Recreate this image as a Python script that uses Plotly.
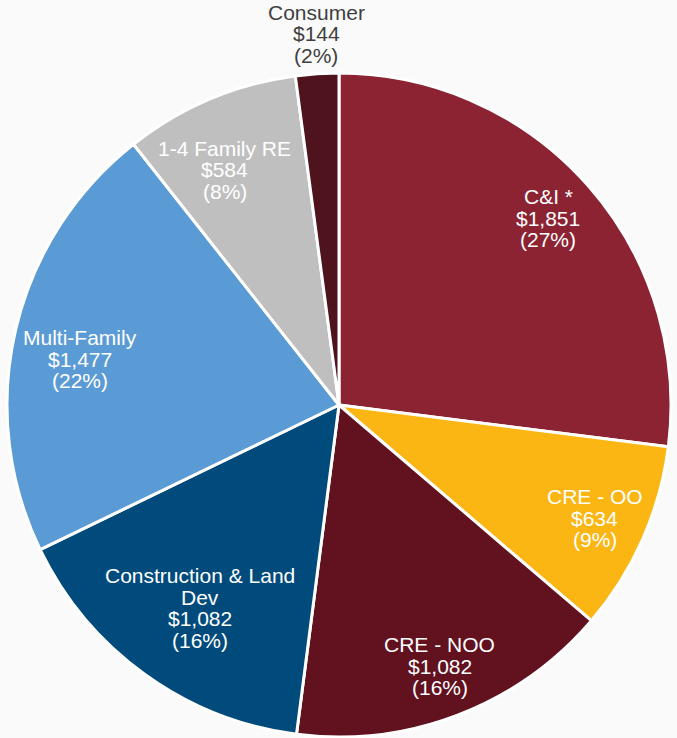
import math
import plotly.graph_objects as go

categories = ["C&I *", "CRE - OO", "CRE - NOO", "Construction & Land<br>Dev",
              "Multi-Family", "1-4 Family RE", "Consumer"]
values = [1851, 634, 1082, 1082, 1477, 584, 144]
pct_labels = ["27%", "9%", "16%", "16%", "22%", "8%", "2%"]

colors = ["#8C2333", "#FBB614", "#62111F", "#004B7B", "#5B9BD5", "#BFBFBF", "#4E131C"]
label_radius = [0.845, 0.843, 0.843, 0.741, 0.792, 0.787, 1.12]
label_angle_shift = [-0.4, 0.0, 0.0, -1.4, -2.9, -3.0, 0.3]
label_colors = ["white"] * 6 + ["#404040"]

W, H = 677, 738
cx, cy, R = 339.0, 405.0, 332.0
FONT = "Liberation Sans, Arial, Helvetica, sans-serif"
FS = 21
LINE_H = 21.5

fig = go.Figure(go.Pie(
    labels=[c.replace("<br>", " ") for c in categories],
    values=values,
    sort=False,
    direction="clockwise",
    rotation=0,
    marker=dict(colors=colors, line=dict(color="white", width=3)),
    textinfo="none",
    hoverinfo="label+value",
    domain=dict(x=[(cx - R) / W, (cx + R) / W], y=[1 - (cy + R) / H, 1 - (cy - R) / H]),
    showlegend=False,
))

total = sum(values)
cum = 0
annotations = []
for cat, v, p, rf, sh, col in zip(categories, values, pct_labels, label_radius,
                                  label_angle_shift, label_colors):
    mid = (cum + v / 2) / total
    cum += v
    th = math.radians(360 * mid + sh)
    px = cx + rf * R * math.sin(th)
    py = cy - rf * R * math.cos(th)
    lines = cat.split("<br>") + [f"${v:,}", f"({p})"]
    n = len(lines)
    for i, ln in enumerate(lines):
        ly = py + (i - (n - 1) / 2) * LINE_H
        annotations.append(dict(
            x=px / W, y=1 - ly / H, xref="paper", yref="paper",
            text=ln, showarrow=False,
            xanchor="center", yanchor="middle", align="center",
            font=dict(family=FONT, size=FS, color=col),
        ))

fig.update_layout(
    width=W, height=H,
    margin=dict(l=0, r=0, t=0, b=0),
    paper_bgcolor="#FAFAFA",
    plot_bgcolor="#FAFAFA",
    annotations=annotations,
)

fig.write_html("out.html", config={"displayModeBar": False},
               post_script="document.body.style.margin='0';document.body.style.background='#FAFAFA';")
